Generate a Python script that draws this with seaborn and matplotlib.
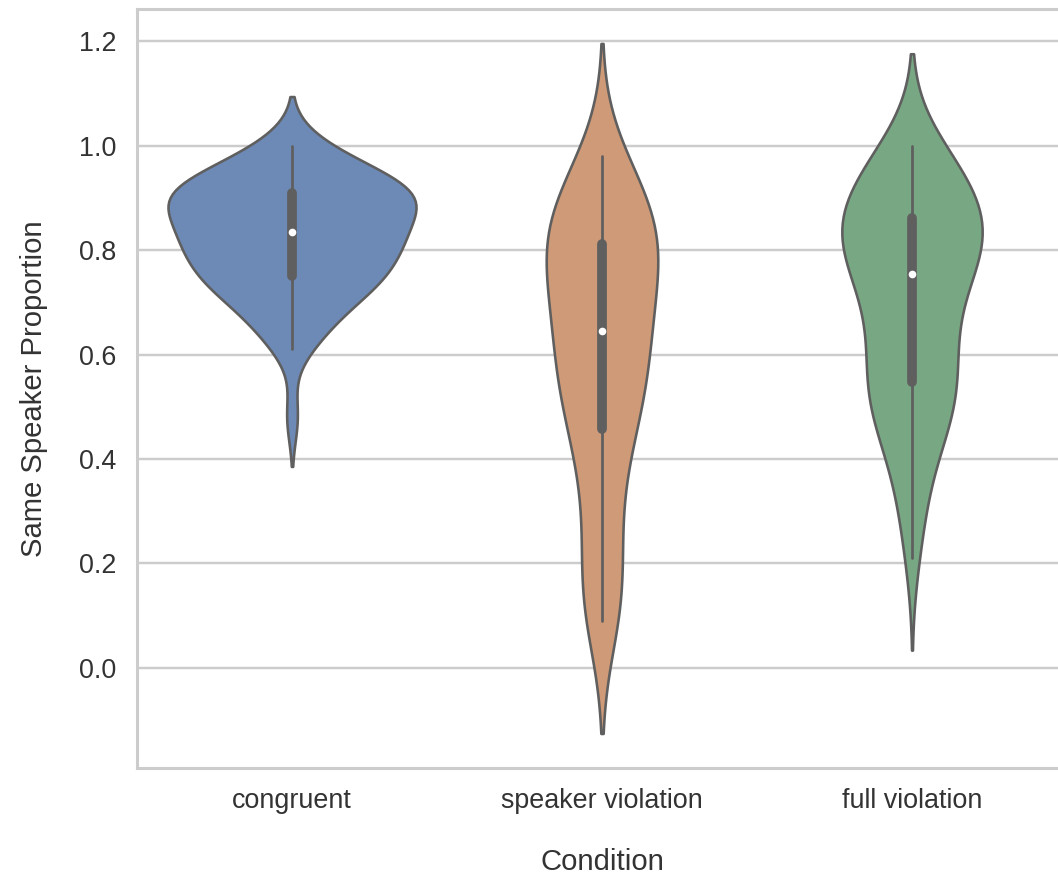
import numpy as np
import pandas as pd
import matplotlib
matplotlib.use("Agg")
import matplotlib.pyplot as plt
import seaborn as sns

# Per-participant proportions (quartiles, whiskers, tails)
conditions = ["congruent", "speaker violation", "full violation"]
colors = ["#6d89b5", "#cf9a77", "#78a883"]

congruent = [0.48, 0.61, 0.63, 0.65, 0.66, 0.68, 0.69, 0.70, 0.71, 0.72,
             0.73, 0.73, 0.74, 0.74, 0.75, 0.75, 0.76, 0.77, 0.77, 0.78,
             0.79, 0.79, 0.80, 0.80, 0.81, 0.81, 0.82, 0.82, 0.83, 0.83,
             0.84, 0.84, 0.85, 0.85, 0.86, 0.87, 0.87, 0.88, 0.88, 0.89,
             0.89, 0.90, 0.90, 0.90, 0.91, 0.91, 0.91, 0.92, 0.92, 0.92,
             0.93, 0.93, 0.94, 0.94, 0.95, 0.96, 0.97, 0.98, 1.00, 1.00]

speaker_violation = [0.09, 0.10, 0.10, 0.11, 0.13, 0.15, 0.18, 0.21, 0.24, 0.27,
                     0.30, 0.33, 0.36, 0.39, 0.42, 0.44, 0.45, 0.46, 0.47, 0.49,
                     0.50, 0.52, 0.53, 0.54, 0.55, 0.56, 0.57, 0.58, 0.59, 0.60,
                     0.61, 0.62, 0.63, 0.64, 0.65, 0.66, 0.68, 0.69, 0.70, 0.72,
                     0.73, 0.74, 0.75, 0.76, 0.77, 0.78, 0.79, 0.79, 0.80, 0.81,
                     0.81, 0.82, 0.82, 0.83, 0.84, 0.85, 0.85, 0.86, 0.87, 0.88,
                     0.89, 0.90, 0.91, 0.92, 0.93, 0.95, 0.96, 0.98]

full_violation = [0.21, 0.27, 0.32, 0.36, 0.39, 0.42, 0.44, 0.46, 0.48, 0.49,
                  0.50, 0.51, 0.52, 0.53, 0.54, 0.55, 0.56, 0.58, 0.59, 0.61,
                  0.62, 0.64, 0.65, 0.67, 0.68, 0.70, 0.71, 0.72, 0.74, 0.75,
                  0.76, 0.77, 0.78, 0.79, 0.80, 0.80, 0.81, 0.82, 0.82, 0.83,
                  0.83, 0.84, 0.84, 0.85, 0.86, 0.87, 0.87, 0.88, 0.89, 0.90,
                  0.91, 0.92, 0.93, 0.94, 0.95, 0.96, 0.97, 0.98, 0.99, 1.00]

df = pd.DataFrame({
    "Condition": ([conditions[0]] * len(congruent)
                  + [conditions[1]] * len(speaker_violation)
                  + [conditions[2]] * len(full_violation)),
    "Same Speaker Proportion": congruent + speaker_violation + full_violation,
})

sns.set_theme(style="whitegrid", context="talk",
              rc={"text.color": ".2", "axes.labelcolor": ".2",
                  "xtick.color": ".2", "ytick.color": ".2"})
plt.rcParams["font.family"] = ["Liberation Sans", "DejaVu Sans"]

dpi = 117
fig = plt.figure(figsize=(1058 / dpi, 879 / dpi), dpi=dpi)
ax = fig.add_axes([0.1295, 0.1263, 0.879, 0.8635])

sns.violinplot(data=df, x="Condition", y="Same Speaker Proportion",
               hue="Condition", order=conditions, hue_order=conditions,
               palette=colors, saturation=1, legend=False,
               density_norm="area", common_norm=True,
               linecolor="#5f5f5f", linewidth=1.6,
               inner_kws=dict(box_width=6, whis_width=1.7, marker="o",
                              solid_capstyle="round"),
               ax=ax)

# smaller white median dots
for line in ax.lines:
    if line.get_marker() == "o":
        line.set_markersize(3.5)

ax.set_yticks([0.0, 0.2, 0.4, 0.6, 0.8, 1.0, 1.2])
ax.set_xlabel("Condition", labelpad=21)
ax.set_ylabel("Same Speaker Proportion", labelpad=19)

fig.savefig("out.png", dpi=dpi)
